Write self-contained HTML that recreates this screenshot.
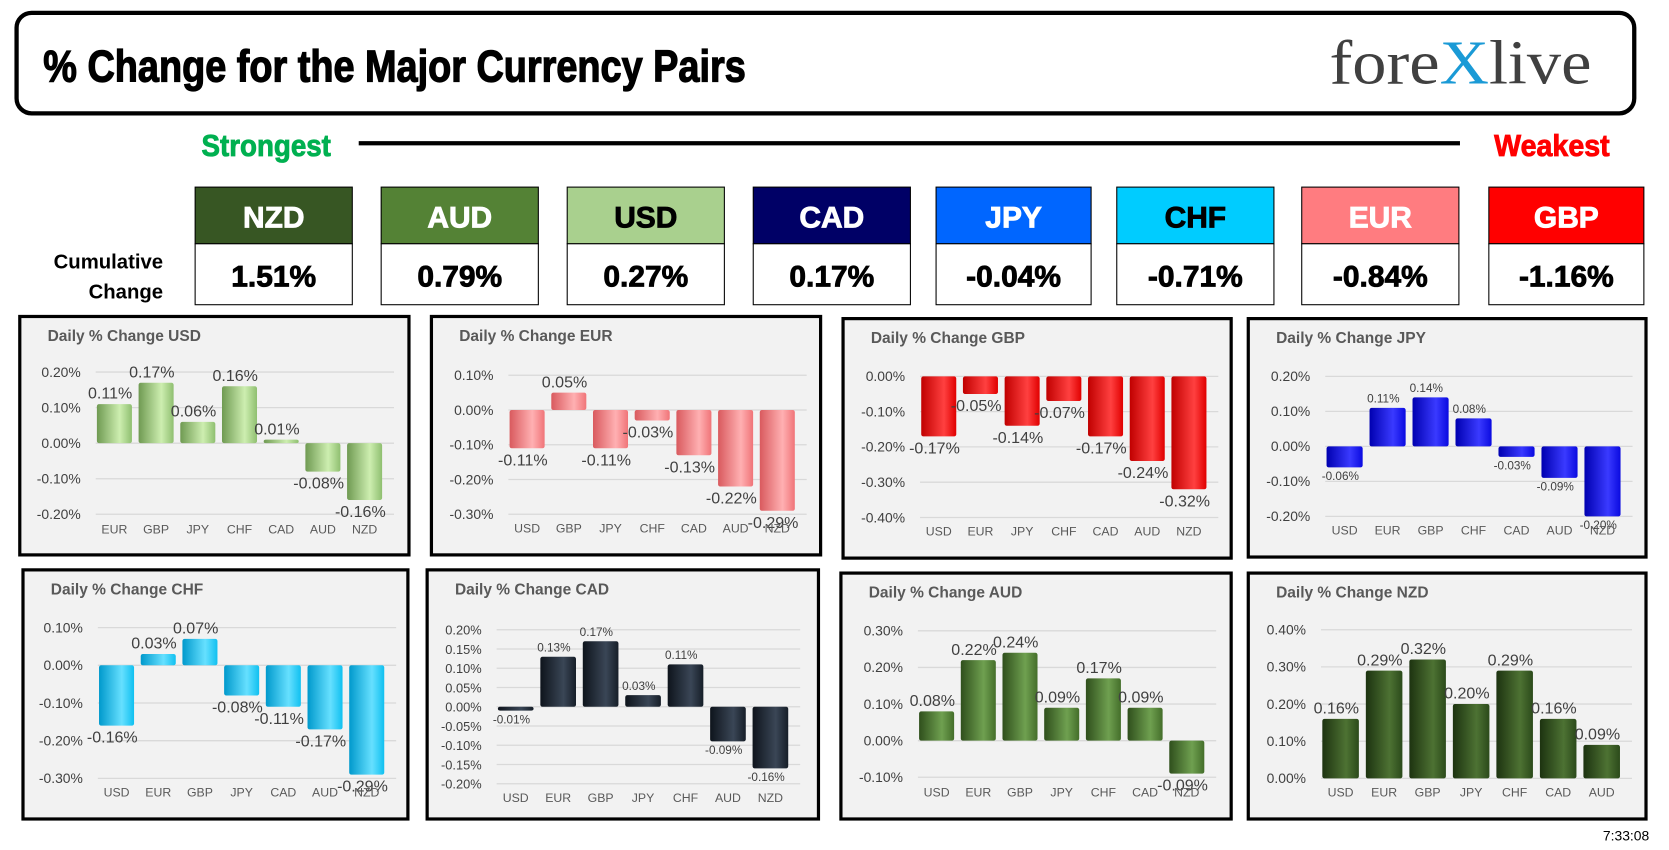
<!DOCTYPE html>
<html><head><meta charset="utf-8">
<style>
html,body{margin:0;padding:0;background:#fff;width:1669px;height:850px;overflow:hidden}
svg{display:block}
.imp{font-family:"Liberation Sans Narrow","Liberation Sans",sans-serif;font-weight:bold}
.cal{font-family:"Liberation Sans","DejaVu Sans",sans-serif}
</style></head>
<body>
<svg id="root" width="1669" height="850" viewBox="0 0 1560 795" xmlns="http://www.w3.org/2000/svg">
<defs>
<linearGradient id="g-usd" x1="0" x2="1"><stop offset="0" stop-color="#6f9a52"/><stop offset="0.65" stop-color="#cdeeb0"/><stop offset="1" stop-color="#8fbf70"/></linearGradient>
<linearGradient id="g-eur" x1="0" x2="1"><stop offset="0" stop-color="#d95a5e"/><stop offset="0.65" stop-color="#ffb0b2"/><stop offset="1" stop-color="#f07478"/></linearGradient>
<linearGradient id="g-gbp" x1="0" x2="1"><stop offset="0" stop-color="#c00000"/><stop offset="0.65" stop-color="#ff4040"/><stop offset="1" stop-color="#e00000"/></linearGradient>
<linearGradient id="g-jpy" x1="0" x2="1"><stop offset="0" stop-color="#0000b0"/><stop offset="0.65" stop-color="#3a3aff"/><stop offset="1" stop-color="#0a0ae0"/></linearGradient>
<linearGradient id="g-chf" x1="0" x2="1"><stop offset="0" stop-color="#0099cc"/><stop offset="0.65" stop-color="#66e0ff"/><stop offset="1" stop-color="#10c0f0"/></linearGradient>
<linearGradient id="g-cad" x1="0" x2="1"><stop offset="0" stop-color="#0e141c"/><stop offset="0.65" stop-color="#3a4656"/><stop offset="1" stop-color="#161e28"/></linearGradient>
<linearGradient id="g-aud" x1="0" x2="1"><stop offset="0" stop-color="#2f4f1c"/><stop offset="0.65" stop-color="#6fa050"/><stop offset="1" stop-color="#446e2a"/></linearGradient>
<linearGradient id="g-nzd" x1="0" x2="1"><stop offset="0" stop-color="#1d3310"/><stop offset="0.65" stop-color="#4d7233"/><stop offset="1" stop-color="#2b4a1a"/></linearGradient>
</defs>

<rect x="15" y="12" width="1513" height="94" rx="14" fill="#fff" stroke="#000" stroke-width="4"/>
<text class="imp" x="40" y="76" font-size="42" stroke="#000" stroke-width="1.2" textLength="657" lengthAdjust="spacingAndGlyphs">% Change for the Major Currency Pairs</text>
<text x="1243" y="78" font-family="Liberation Serif,serif" font-size="58" fill="#404040" textLength="245" lengthAdjust="spacingAndGlyphs">fore<tspan fill="#1a9ad6">X</tspan>live</text>

<text class="imp" x="188" y="146" font-size="29" fill="#00B050" stroke="#00B050" stroke-width="0.8" textLength="121" lengthAdjust="spacingAndGlyphs">Strongest</text>
<line x1="335" y1="134" x2="1365" y2="134" stroke="#000" stroke-width="4"/>
<text class="imp" x="1397" y="146" font-size="29" fill="#FF0000" stroke="#FF0000" stroke-width="0.8" textLength="108" lengthAdjust="spacingAndGlyphs">Weakest</text>

<text class="imp" x="152" y="251" font-size="19" text-anchor="end">Cumulative</text>
<text class="imp" x="152" y="279" font-size="19" text-anchor="end">Change</text>

<g id="cards"></g>
<g id="panels"></g>

<text class="cal" x="1542" y="786" font-size="13" text-anchor="end">7:33:08</text>
</svg>

<script>
const NS = "http://www.w3.org/2000/svg";
// Cumulative ranking
const rankCurrencies = ["NZD","AUD","USD","CAD","JPY","CHF","EUR","GBP"];
const rankValues = [1.51, 0.79, 0.27, 0.17, -0.04, -0.71, -0.84, -1.16];

// Daily % change per base currency
const usdCats = ["EUR","GBP","JPY","CHF","CAD","AUD","NZD"];
const usdVals = [0.11, 0.17, 0.06, 0.16, 0.01, -0.08, -0.16];
const eurCats = ["USD","GBP","JPY","CHF","CAD","AUD","NZD"];
const eurVals = [-0.11, 0.05, -0.11, -0.03, -0.13, -0.22, -0.29];
const gbpCats = ["USD","EUR","JPY","CHF","CAD","AUD","NZD"];
const gbpVals = [-0.17, -0.05, -0.14, -0.07, -0.17, -0.24, -0.32];
const jpyCats = ["USD","EUR","GBP","CHF","CAD","AUD","NZD"];
const jpyVals = [-0.06, 0.11, 0.14, 0.08, -0.03, -0.09, -0.20];
const chfCats = ["USD","EUR","GBP","JPY","CAD","AUD","NZD"];
const chfVals = [-0.16, 0.03, 0.07, -0.08, -0.11, -0.17, -0.29];
const cadCats = ["USD","EUR","GBP","JPY","CHF","AUD","NZD"];
const cadVals = [-0.01, 0.13, 0.17, 0.03, 0.11, -0.09, -0.16];
const audCats = ["USD","EUR","GBP","JPY","CHF","CAD","NZD"];
const audVals = [0.08, 0.22, 0.24, 0.09, 0.17, 0.09, -0.09];
const nzdCats = ["USD","EUR","GBP","JPY","CHF","CAD","AUD"];
const nzdVals = [0.16, 0.29, 0.32, 0.20, 0.29, 0.16, 0.09];

// Axis tick values
const usdTicks = [0.2, 0.1, 0, -0.1, -0.2];
const eurTicks = [0.1, 0, -0.1, -0.2, -0.3];
const gbpTicks = [0, -0.1, -0.2, -0.3, -0.4];
const jpyTicks = [0.2, 0.1, 0, -0.1, -0.2];
const chfTicks = [0.1, 0, -0.1, -0.2, -0.3];
const cadTicks = [0.2, 0.15, 0.1, 0.05, 0, -0.05, -0.1, -0.15, -0.2];
const audTicks = [0.3, 0.2, 0.1, 0, -0.1];
const nzdTicks = [0.4, 0.3, 0.2, 0.1, 0];

function mk(tag, attrs, parent){
  const e = document.createElementNS(NS, tag);
  for (const k in attrs) e.setAttribute(k, attrs[k]);
  parent.appendChild(e);
  return e;
}

// Cards
const cardX = [182,356,530,704,875,1044,1217,1392];
const cardW = [147,147,147,147,145,147,147,145];
const cardBg = {NZD:"#375623",AUD:"#548235",USD:"#A9D08E",CAD:"#000066",JPY:"#0066FF",CHF:"#00CCFF",EUR:"#FF7C80",GBP:"#FF0000"};
const cardFg = {NZD:"#fff",AUD:"#fff",USD:"#000",CAD:"#fff",JPY:"#fff",CHF:"#000",EUR:"#fff",GBP:"#fff"};
const cards = document.getElementById("cards");
rankCurrencies.forEach((c,i)=>{
  const g = mk("g",{},cards);
  
  
  const x = cardX[i], w = cardW[i];
  mk("rect",{x:x,y:175,width:w,height:53,fill:cardBg[c],stroke:"#000","stroke-width":1},g);
  mk("rect",{x:x,y:228,width:w,height:57,fill:"#fff",stroke:"#000","stroke-width":1},g);
  const t1 = mk("text",{x:x+w/2,y:213,"text-anchor":"middle","font-size":28,fill:cardFg[c],stroke:cardFg[c],"stroke-width":0.8,class:"imp"},g);
  t1.textContent = c;
  
  
  const v = rankValues[i];
  const t2 = mk("text",{x:x+w/2,y:268,"text-anchor":"middle","font-size":28,fill:"#000",stroke:"#000","stroke-width":0.8,class:"imp"},g);
  t2.textContent = v.toFixed(2) + "%";
  
  
});

// Panels: layout (positions only)
const panelDefs = [
  {id:"usd",cats:usdCats,vals:usdVals,ticks:usdTicks,x:18,y:296,w:364,h:223,top:52,bot:185,left:69,band:39,catY:203,tf:13,lf:15,cf:11.5,dec:2},
  {id:"eur",cats:eurCats,vals:eurVals,ticks:eurTicks,x:403,y:296,w:364,h:223,top:55,bot:185,left:70,band:39,catY:202,tf:13,lf:15,cf:11.5,dec:2},
  {id:"gbp",cats:gbpCats,vals:gbpVals,ticks:gbpTicks,x:788,y:298,w:363,h:224,top:54,bot:186,left:70,band:39,catY:203,tf:13,lf:15,cf:11.5,dec:2},
  {id:"jpy",cats:jpyCats,vals:jpyVals,ticks:jpyTicks,x:1167,y:298,w:372,h:223,top:54,bot:185,left:70,band:40.2,catY:202,tf:13,lf:11,cf:11.5,dec:2},
  {id:"chf",cats:chfCats,vals:chfVals,ticks:chfTicks,x:21,y:533,w:360,h:233,top:54,bot:195,left:68,band:39,catY:212,tf:13,lf:15,cf:11.5,dec:2},
  {id:"cad",cats:cadCats,vals:cadVals,ticks:cadTicks,x:399,y:533,w:366,h:233,top:56,bot:200,left:63,band:39.7,catY:217,tf:12,lf:11,cf:11.5,dec:2},
  {id:"aud",cats:audCats,vals:audVals,ticks:audTicks,x:786,y:536,w:365,h:230,top:54,bot:191,left:70,band:39,catY:209,tf:13,lf:15,cf:11.5,dec:2},
  {id:"nzd",cats:nzdCats,vals:nzdVals,ticks:nzdTicks,x:1167,y:536,w:372,h:230,top:53,bot:192,left:66,band:40.7,catY:209,tf:13,lf:15,cf:11.5,dec:2}
];

const panels = document.getElementById("panels");
panelDefs.forEach(p=>{
  const g = mk("g",{transform:`translate(${p.x},${p.y})`},panels);
  
  
  mk("rect",{x:0,y:0,width:p.w,height:p.h,fill:"#f2f2f2",stroke:"#000","stroke-width":3},g);
  const title = mk("text",{x:26,y:23,"font-size":14.5,"font-weight":"bold",fill:"#595959",class:"cal"},g);
  title.textContent = "Daily % Change " + p.id.toUpperCase();
  
  
  const tmax = Math.max(...p.ticks), tmin = Math.min(...p.ticks);
  const yS = v => p.top + (tmax - v) / (tmax - tmin) * (p.bot - p.top);
  const xC = i => p.left + p.band * (i + 0.5);
  const right = p.left + p.band * p.cats.length + 8;
  p.ticks.forEach(t=>{
    const y = yS(t);
    const gl = mk("line",{x1:p.left+2,y1:y,x2:right,y2:y,stroke:"#d9d9d9","stroke-width":1.2},g);
    
    
    const tl = mk("text",{x:p.left-12,y:y+4.5,"text-anchor":"end","font-size":p.tf,fill:"#404040",class:"cal"},g);
    tl.textContent = t.toFixed(2) + "%";
    
    
  });
  const y0 = yS(0);
  const bw = p.band * 0.84;
  p.cats.forEach((c,i)=>{
    const v = p.vals[i];
    const yv = yS(v);
    const top = Math.min(y0,yv), h = Math.max(1.5, Math.abs(yv - y0));
    const b = mk("rect",{x:xC(i)-bw/2,y:top,width:bw,height:h,rx:2,fill:`url(#g-${p.id})`},g);
    
    
    const lbl = mk("text",{x:xC(i)-4,y: v>=0 ? yv-5 : yv+p.lf+1,"text-anchor":"middle","font-size":p.lf,fill:"#404040",class:"cal"},g);
    lbl.textContent = v.toFixed(p.dec) + "%";
    
    
    const cl = mk("text",{x:xC(i),y:p.catY,"text-anchor":"middle","font-size":p.cf,fill:"#595959",class:"cal"},g);
    cl.textContent = c;
    
    
  });
});
</script>
</body></html>
